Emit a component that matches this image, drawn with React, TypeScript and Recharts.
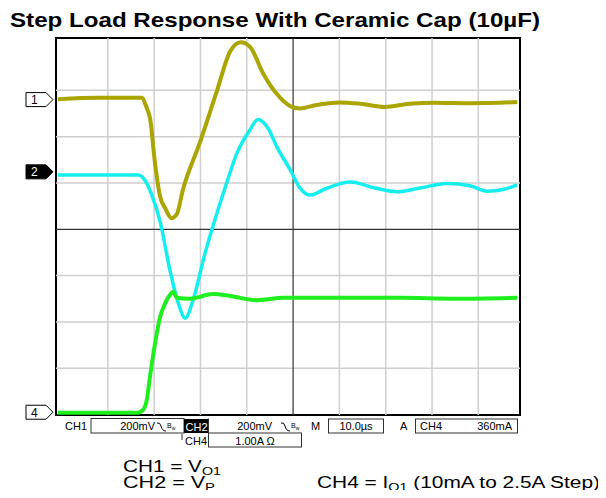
import { LineChart, Line, XAxis, YAxis, ReferenceLine, ReferenceArea, ReferenceDot } from 'recharts';

// time in divisions (10µs/div), level in divisions (0 = screen centre)
const CH1_T = [-0.08, 0.83, 1.73, 1.84, 1.91, 2.02, 2.13, 2.24, 2.38, 2.49, 2.62, 2.99, 3.35, 3.64, 3.87, 4.07, 4.35, 4.65, 4.94, 5.15, 5.48, 6.01, 6.45, 6.98, 7.52, 8.07, 8.82, 9.47, 9.84];
const CH1_V = [2.81, 2.84, 2.84, 2.62, 2.40, 1.41, 0.70, 0.45, 0.24, 0.33, 0.85, 1.88, 2.97, 3.84, 4.04, 3.94, 3.37, 2.92, 2.66, 2.61, 2.68, 2.74, 2.71, 2.64, 2.71, 2.73, 2.72, 2.73, 2.75];

const CH2_T = [-0.08, 0.83, 1.65, 1.80, 1.95, 2.13, 2.34, 2.52, 2.67, 2.84, 3.10, 3.31, 3.53, 3.79, 4.07, 4.24, 4.46, 4.65, 4.94, 5.15, 5.37, 5.69, 6.23, 6.77, 7.24, 7.74, 8.32, 8.82, 9.19, 9.58, 9.84];
const CH2_V = [1.17, 1.17, 1.17, 1.06, 0.74, 0.16, -0.88, -1.59, -1.92, -1.53, -0.51, 0.20, 0.89, 1.65, 2.15, 2.37, 2.18, 1.78, 1.28, 0.89, 0.74, 0.87, 1.02, 0.89, 0.81, 0.89, 0.99, 0.94, 0.82, 0.87, 0.96];

const CH4_T = [-0.08, 0.83, 1.65, 1.76, 1.84, 1.91, 2.02, 2.13, 2.24, 2.34, 2.41, 2.49, 2.77, 3.27, 3.64, 4.21, 4.79, 5.80, 7.31, 8.50, 9.84];
const CH4_V = [-3.96, -3.96, -3.96, -3.90, -3.69, -3.18, -2.46, -1.89, -1.59, -1.42, -1.35, -1.48, -1.50, -1.40, -1.44, -1.53, -1.48, -1.48, -1.48, -1.50, -1.48];

const GRID_X = [1, 2, 3, 4, 6, 7, 8, 9];
const GRID_Y = [-3, -2, -1, 1, 2, 3];
const MARKERS = [
  { label: '1', level: 2.8, filled: false },
  { label: '2', level: 1.24, filled: true },
  { label: '4', level: -3.95, filled: false },
];

const X_DOMAIN: [number, number] = [-0.12, 9.9];
const Y_DOMAIN: [number, number] = [-4.01, 4.13];

const toRows = (t: number[], v: number[]) => t.map((x, i) => ({ t: x, v: v[i] }));
const ch1 = toRows(CH1_T, CH1_V);
const ch2 = toRows(CH2_T, CH2_V);
const ch4 = toRows(CH4_T, CH4_V);

const FONT = '"Liberation Sans", Arial, sans-serif';

function Marker({ cx, cy, label, filled }: { cx?: number; cy?: number; label: string; filled: boolean }) {
  if (cx == null || cy == null) return null;
  const l = cx - 30, r = cx - 10, tip = cx - 3;
  return (
    <g>
      <path d={`M${l},${cy - 7} H${r} L${tip},${cy} L${r},${cy + 7} H${l} Z`}
        fill={filled ? '#000' : '#fff'} stroke="#000" strokeWidth={1} />
      <text x={l + 5} y={cy + 4.5} fontSize={12} fontFamily={FONT} fill={filled ? '#fff' : '#000'}>{label}</text>
    </g>
  );
}

// bandwidth-limit glyph used in the status bar
const Bw = ({ x }: { x: number }) => (
  <g>
    <path d={`M${x},${423} Q${x + 3},${422} ${x + 4},${426} Q${x + 5},${431} ${x + 9},${431}`} fill="none" stroke="#000" strokeWidth={1} />
    <text x={x + 10} y={428} fontSize={7} fontFamily={FONT}>B<tspan fontSize={5} dy={2}>w</tspan></text>
  </g>
);

export default function App() {
  return (
    <div style={{ position: 'relative', width: 606, height: 498, margin: -8, background: '#fff', fontFamily: FONT }}>
      <div style={{ position: 'absolute', left: 0, top: 0 }}>
        <LineChart width={606} height={498} margin={{ top: 38, right: 86, bottom: 83, left: 56 }}>
          <XAxis type="number" dataKey="t" domain={X_DOMAIN} allowDataOverflow
            tick={false} tickLine={false} axisLine={false} height={0} />
          <YAxis type="number" dataKey="v" domain={Y_DOMAIN} allowDataOverflow
            tick={false} tickLine={false} axisLine={false} width={0} />
          {GRID_X.map(x => <ReferenceLine key={'gx' + x} x={x} stroke="#cfcfcf" strokeWidth={1.5} />)}
          {GRID_Y.map(y => <ReferenceLine key={'gy' + y} y={y} stroke="#cfcfcf" strokeWidth={1.5} />)}
          <ReferenceLine x={5} stroke="#333" strokeWidth={1.2} />
          <ReferenceLine y={0} stroke="#333" strokeWidth={1.2} />
          <Line data={ch1} dataKey="v" type="monotone" stroke="#aaa500" strokeWidth={4} dot={false} isAnimationActive={false} />
          <Line data={ch2} dataKey="v" type="monotone" stroke="#14eeee" strokeWidth={3.5} dot={false} isAnimationActive={false} />
          <Line data={ch4} dataKey="v" type="monotone" stroke="#1fee1f" strokeWidth={4} dot={false} isAnimationActive={false} />
          <ReferenceArea x1={X_DOMAIN[0]} x2={X_DOMAIN[1]} y1={Y_DOMAIN[0]} y2={Y_DOMAIN[1]}
            fill="none" stroke="#000" strokeWidth={2} ifOverflow="visible" />
          {MARKERS.map(m => (
            <ReferenceDot key={m.label} x={X_DOMAIN[0]} y={m.level} ifOverflow="visible"
              shape={(p: any) => <Marker cx={p.cx} cy={p.cy} label={m.label} filled={m.filled} />} />
          ))}
        </LineChart>
      </div>
      <svg width={606} height={498} style={{ position: 'absolute', left: 0, top: 0, pointerEvents: 'none' }} fontFamily={FONT}>
        <text x={10} y={27} fontSize={21} fontWeight="bold" textLength={530} lengthAdjust="spacingAndGlyphs">
          Step Load Response With Ceramic Cap (10µF)
        </text>

        {/* status bar */}
        <g fontSize={11}>
          <text x={65} y={430}>CH1</text>
          <rect x={91} y={418.5} width={93} height={14.5} fill="none" stroke="#333" strokeWidth={1} />
          <text x={155} y={430} textAnchor="end">200mV</text>
          <Bw x={157} />
          <rect x={184} y={419} width={24} height={14} fill="#000" />
          <text x={185.5} y={431} fill="#fff">CH2</text>
          <line x1={208.5} y1={418.5} x2={208.5} y2={433} stroke="#333" strokeWidth={1} />
          <text x={272} y={430} textAnchor="end">200mV</text>
          <Bw x={281} />
          <text x={311} y={430}>M</text>
          <rect x={328.5} y={419} width={55} height={14} fill="none" stroke="#333" strokeWidth={1} />
          <text x={356} y={430} textAnchor="middle">10.0µs</text>
          <text x={400} y={430}>A</text>
          <rect x={415.5} y={419} width={102} height={14} fill="none" stroke="#333" strokeWidth={1} />
          <text x={420} y={430}>CH4</text>
          <text x={512} y={430} textAnchor="end">360mA</text>
          <line x1={182} y1={434} x2={182} y2={440} stroke="#333" strokeWidth={1} />
          <text x={185} y={444.5}>CH4</text>
          <rect x={208.5} y={433} width={93} height={14} fill="none" stroke="#333" strokeWidth={1} />
          <text x={255} y={444.5} textAnchor="middle">1.00A Ω</text>
        </g>

        {/* channel legend */}
        <g fontSize={16}>
          <text x={123} y={471.7} textLength={98} lengthAdjust="spacingAndGlyphs">
            CH1 = V<tspan fontSize={11} dy={3}>O1</tspan>
          </text>
          <text x={123} y={488.3} textLength={92} lengthAdjust="spacingAndGlyphs">
            CH2 = V<tspan fontSize={11} dy={3}>P</tspan>
          </text>
          <text x={317} y={488.3} textLength={283} lengthAdjust="spacingAndGlyphs">
            CH4 = I<tspan fontSize={11} dy={3}>O1</tspan><tspan dy={-3}> (10mA to 2.5A Step)</tspan>
          </text>
        </g>
      </svg>
    </div>
  );
}
